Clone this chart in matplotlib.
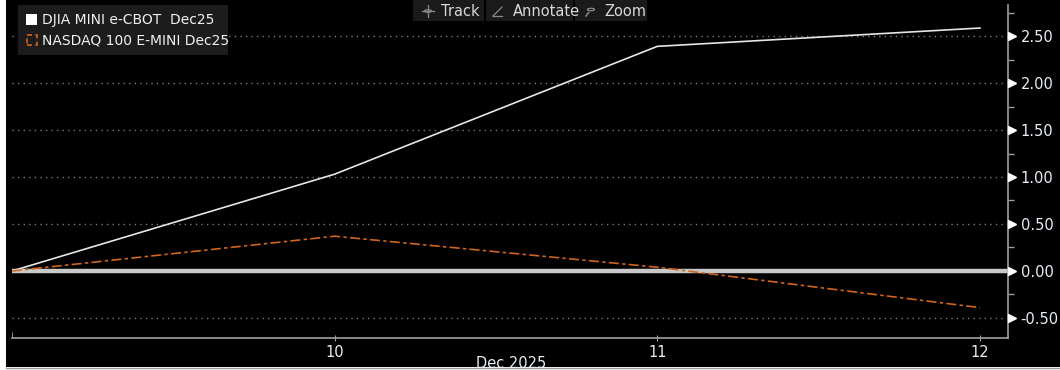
import matplotlib
matplotlib.use("Agg")
import matplotlib.pyplot as plt
from matplotlib.patches import Rectangle, Circle
from matplotlib.lines import Line2D
from matplotlib.transforms import blended_transform_factory

# ---- data ----
days = [9, 10, 11, 12]
djia = [0.0, 1.03, 2.39, 2.585]
nasdaq = [0.0, 0.37, 0.04, -0.39]
xticks = [10, 11, 12]
xtick_labels = ["10", "11", "12"]
yticks = [-0.5, 0.0, 0.5, 1.0, 1.5, 2.0, 2.5]
ytick_labels = ["-0.50", "0.00", "0.50", "1.00", "1.50", "2.00", "2.50"]
series_names = ["DJIA MINI e-CBOT  Dec25", "NASDAQ 100 E-MINI Dec25"]
month_label = "Dec 2025"
toolbar = ["Track", "Annotate", "Zoom"]

W, H = 1060, 370
fig = plt.figure(figsize=(W / 100, H / 100), dpi=100, facecolor="white")

def fx(px):
    return px / W

def fy(py):
    return 1 - py / H

# black panel
fig.patches.append(Rectangle((fx(6), fy(367)), fx(W - 6), 1 - fy(367) + 0.01,
                             transform=fig.transFigure, facecolor="black",
                             edgecolor="none", zorder=-10))
fig.lines.append(Line2D([fx(6), 1], [fy(367.5), fy(367.5)], transform=fig.transFigure,
                        color="#9a9a9a", lw=1, zorder=-9))

ax = fig.add_axes([fx(12), fy(338), fx(1008) - fx(12), fy(5) - fy(338)])
ax.set_zorder(1)
ax.set_facecolor("black")
ax.set_xlim(9, 12.087)
ax.set_ylim(-0.713, 2.83)

for s in ["left", "top"]:
    ax.spines[s].set_visible(False)
ax.spines["bottom"].set_color("#a0a0a0")
ax.spines["right"].set_color("#a0a0a0")
ax.spines["bottom"].set_linewidth(1.2)
ax.spines["right"].set_linewidth(1.2)

# grid
for v in yticks:
    if v != 0:
        ax.axhline(v, color="#7a7a7a", lw=1, linestyle=(0, (1, 3)), zorder=1)
ax.axhline(0, color="#c8c8c8", lw=3.2, zorder=2)

ax.plot(days, djia, color="#e6e6e6", lw=1.2, zorder=3)
ax.plot(days, nasdaq, color="#d2641e", lw=1.2, dashes=(6, 2, 2, 2), zorder=3)

# y axis on right
ax.yaxis.tick_right()
ax.set_yticks(yticks)
ax.set_yticklabels(ytick_labels)
ax.tick_params(axis="y", which="major", length=0, pad=9, labelsize=10.5, labelcolor="#e8eef5")
ax.set_yticks([-0.25, 0.25, 0.75, 1.25, 1.75, 2.25, 2.75], minor=True)
ax.tick_params(axis="y", which="minor", length=4, width=1, color="#a0a0a0", direction="out")
tr = blended_transform_factory(ax.transAxes, ax.transData)
ax.plot([1.004] * len(yticks), yticks, linestyle="none", marker=">", markersize=6,
        color="white", transform=tr, clip_on=False, zorder=5)

# x axis
ax.set_xticks(xticks)
ax.set_xticklabels(xtick_labels)
ax.tick_params(axis="x", which="major", length=4, direction="inout", color="#a0a0a0",
               labelsize=10.5, labelcolor="#e8eef5", pad=3)
ax.set_xticks([9], minor=True)
ax.tick_params(axis="x", which="minor", length=4, direction="in", color="#a0a0a0")
fig.text(fx(511), fy(363), month_label, ha="center", va="center", fontsize=10.5,
         color="#e8eef5")

# legend
fig.patches.append(Rectangle((fx(18), fy(55)), fx(210), fy(5) - fy(55),
                             transform=fig.transFigure, facecolor="#1c1c1c",
                             edgecolor="none", zorder=5))
fig.patches.append(Rectangle((fx(26), fy(25)), fx(11), fy(14) - fy(25),
                             transform=fig.transFigure, facecolor="white",
                             edgecolor="none", zorder=6))
fig.patches.append(Rectangle((fx(26.5), fy(45)), fx(10), fy(35) - fy(45),
                             transform=fig.transFigure, facecolor="none",
                             edgecolor="#d2641e", lw=1.2, linestyle=(0, (3, 2)), zorder=6))
fig.text(fx(42), fy(20), series_names[0], ha="left", va="center", fontsize=10,
         color="#f0f0f0", zorder=7)
fig.text(fx(42), fy(40), series_names[1], ha="left", va="center", fontsize=10,
         color="#f0f0f0", zorder=7)

# toolbar
boxes = [(413, 484), (486, 573), (575, 647)]
for (x0, x1) in boxes:
    fig.patches.append(Rectangle((fx(x0), fy(21)), fx(x1 - x0), fy(0) - fy(21),
                                 transform=fig.transFigure, facecolor="#1a1a1a",
                                 edgecolor="none", zorder=5))
fig.text(fx(441), fy(11), toolbar[0], ha="left", va="center", fontsize=10.5,
         color="#d8d8d8", zorder=7)
fig.text(fx(513), fy(11), toolbar[1], ha="left", va="center", fontsize=10.5,
         color="#d8d8d8", zorder=7)
fig.text(fx(604), fy(11), toolbar[2], ha="left", va="center", fontsize=10.5,
         color="#d8d8d8", zorder=7)
# icons
icol = "#8a8a8a"
fig.patches.append(Circle((fx(428), fy(11)), 3.5 / W, transform=fig.transFigure,
                          facecolor="none", edgecolor=icol, lw=0.9, zorder=7))
fig.lines.append(Line2D([fx(422), fx(434)], [fy(11), fy(11)], transform=fig.transFigure,
                        color=icol, lw=0.9, zorder=7))
fig.lines.append(Line2D([fx(428), fx(428)], [fy(5), fy(17)], transform=fig.transFigure,
                        color=icol, lw=0.9, zorder=7))
fig.lines.append(Line2D([fx(493), fx(502), fx(502)], [fy(16), fy(7), fy(7)],
                        transform=fig.transFigure, color=icol, lw=0.9, zorder=7))
fig.lines.append(Line2D([fx(493), fx(502)], [fy(16), fy(16)],
                        transform=fig.transFigure, color=icol, lw=0.9, zorder=7))
fig.patches.append(Circle((fx(591), fy(9.5)), 3.5 / W, transform=fig.transFigure,
                          facecolor="none", edgecolor=icol, lw=0.9, zorder=7))
fig.lines.append(Line2D([fx(586), fx(588.5)], [fy(16), fy(12.5)], transform=fig.transFigure,
                        color=icol, lw=1.1, zorder=7))

fig.savefig("out.png", dpi=100, facecolor=fig.get_facecolor())
